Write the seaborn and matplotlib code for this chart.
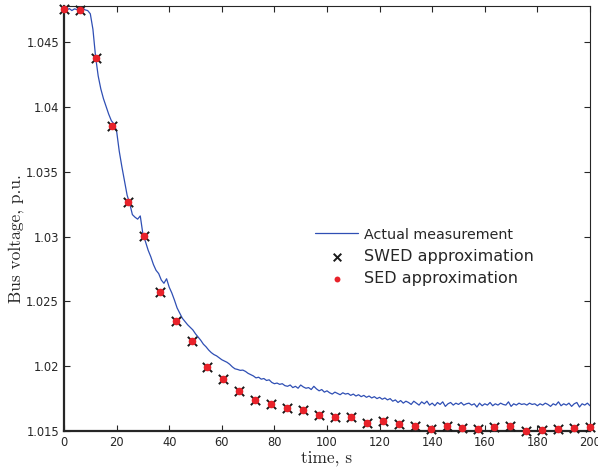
import matplotlib
matplotlib.use("Agg")
import matplotlib.pyplot as plt
import seaborn as sns
import numpy as np
from matplotlib.ticker import FuncFormatter, MultipleLocator

# Measured bus voltage, sampled once per second (t = 0 ... 200 s)
meas_t = np.arange(0, 201)
meas_v = [
    1.04755, 1.04748, 1.04760, 1.04745, 1.04758, 1.04752, 1.04740, 1.04768, 1.04750, 1.04745,
    1.04720, 1.04600, 1.04390, 1.04240, 1.04140, 1.04065, 1.04005, 1.03945, 1.03895, 1.03870,
    1.03815, 1.03660, 1.03540, 1.03430, 1.03320, 1.03255, 1.03170, 1.03150, 1.03135, 1.03160,
    1.03020, 1.02960, 1.02895, 1.02845, 1.02785, 1.02740, 1.02715, 1.02665, 1.02640, 1.02675,
    1.02610, 1.02565, 1.02510, 1.02450, 1.02410, 1.02370, 1.02345, 1.02320, 1.02300, 1.02280,
    1.02250, 1.02225, 1.02200, 1.02170, 1.02150, 1.02125, 1.02105, 1.02090, 1.02080, 1.02065,
    1.02050, 1.02040, 1.02030, 1.02015, 1.01995, 1.01980, 1.01975, 1.01968, 1.01970, 1.01960,
    1.01945, 1.01935, 1.01925, 1.01910, 1.01915, 1.01900, 1.01905, 1.01890, 1.01895, 1.01875,
    1.01865, 1.01870, 1.01860, 1.01865, 1.01850, 1.01845, 1.01855, 1.01835, 1.01845, 1.01830,
    1.01855, 1.01840, 1.01830, 1.01835, 1.01820, 1.01845, 1.01825, 1.01810, 1.01820, 1.01800,
    1.01810, 1.01795, 1.01785, 1.01800, 1.01790, 1.01780, 1.01795, 1.01785, 1.01790, 1.01775,
    1.01785, 1.01770, 1.01780, 1.01765, 1.01775, 1.01760, 1.01770, 1.01755, 1.01765, 1.01750,
    1.01760, 1.01745, 1.01755, 1.01740, 1.01750, 1.01730, 1.01740, 1.01720, 1.01735, 1.01715,
    1.01730, 1.01720, 1.01705, 1.01730, 1.01715, 1.01700, 1.01725, 1.01710, 1.01730, 1.01700,
    1.01715, 1.01695, 1.01720, 1.01705, 1.01725, 1.01690, 1.01710, 1.01720, 1.01700, 1.01715,
    1.01705, 1.01720, 1.01700, 1.01710, 1.01715, 1.01700, 1.01710, 1.01685, 1.01715, 1.01695,
    1.01710, 1.01700, 1.01720, 1.01695, 1.01710, 1.01700, 1.01715, 1.01705, 1.01700, 1.01725,
    1.01690, 1.01710, 1.01700, 1.01715, 1.01705, 1.01710, 1.01700, 1.01715, 1.01705, 1.01710,
    1.01695, 1.01710, 1.01700, 1.01715, 1.01705, 1.01690, 1.01710, 1.01700, 1.01725, 1.01695,
    1.01710, 1.01700, 1.01715, 1.01690, 1.01710, 1.01720, 1.01685, 1.01710, 1.01700, 1.01715,
    1.01695,
]

# Approximation sample times (s)
approx_t = [
    0.0, 6.1, 12.1, 18.2, 24.2, 30.3, 36.4, 42.4, 48.5, 54.5, 60.6, 66.7,
    72.7, 78.8, 84.8, 90.9, 97.0, 103.0, 109.1, 115.2, 121.2, 127.3, 133.3,
    139.4, 145.5, 151.5, 157.6, 163.6, 169.7, 175.8, 181.8, 187.9, 193.9, 200.0,
]
swed_v = [
    1.04754, 1.04746, 1.04377, 1.03854, 1.03267, 1.03007, 1.02571, 1.02352,
    1.02192, 1.01995, 1.01902, 1.01809, 1.01736, 1.01709, 1.01678, 1.01665,
    1.01626, 1.01608, 1.01610, 1.01564, 1.01577, 1.01556, 1.01536, 1.01512,
    1.01541, 1.01526, 1.01518, 1.01533, 1.01539, 1.01502, 1.01505, 1.01515,
    1.01523, 1.01531,
]
sed_v = [
    1.04754, 1.04746, 1.04377, 1.03854, 1.03267, 1.03007, 1.02571, 1.02352,
    1.02192, 1.01995, 1.01902, 1.01809, 1.01736, 1.01709, 1.01678, 1.01665,
    1.01626, 1.01608, 1.01610, 1.01564, 1.01577, 1.01556, 1.01536, 1.01512,
    1.01541, 1.01526, 1.01518, 1.01533, 1.01539, 1.01502, 1.01505, 1.01515,
    1.01523, 1.01531,
]

labels = ["Actual measurement", "SWED approximation", "SED approximation"]

sns.set_theme(style="ticks")
plt.rcParams["font.family"] = ["DejaVu Sans"]

fig = plt.figure(figsize=(5.98, 4.69), dpi=100)
ax = fig.add_axes([64 / 598, 38 / 469, 526 / 598, 425 / 469])

sns.lineplot(x=meas_t, y=meas_v, ax=ax, color="#2f4fb4", linewidth=0.9,
             estimator=None, label=labels[0], zorder=2)
sns.scatterplot(x=approx_t, y=swed_v, ax=ax, marker="x", s=45, color="#1a1a1a",
                linewidth=1.4, label=labels[1], zorder=3, clip_on=False)
sns.scatterplot(x=approx_t, y=sed_v, ax=ax, marker="o", s=30, color="#e8222a",
                linewidth=0, label=labels[2], zorder=4, clip_on=False)

ax.set_xlim(0, 200)
ax.set_ylim(1.015, 1.0478)
ax.xaxis.set_major_locator(MultipleLocator(20))
ax.yaxis.set_major_locator(MultipleLocator(0.005))
ax.yaxis.set_major_formatter(FuncFormatter(lambda v, p: f"{v:g}"))

ax.tick_params(direction="in", top=True, right=True, length=4, width=0.8,
               labelsize=8.3, pad=3.5, colors="#262626")
for side in ("left", "bottom"):
    ax.spines[side].set_linewidth(1.6)
for side in ("top", "right"):
    ax.spines[side].set_linewidth(0.8)
for sp in ax.spines.values():
    sp.set_color("#262626")

ax.set_xlabel("time, s", fontfamily="cmr10", fontsize=12.5, labelpad=1, color="#262626")
ax.set_ylabel("Bus voltage, p.u.", fontfamily="cmr10", fontsize=12.5, color="#262626")
ax.yaxis.set_label_coords(-0.076, 0.452)

handles, hl = ax.get_legend_handles_labels()
leg = ax.legend(handles, hl, loc="center left", bbox_to_anchor=(0.465, 0.409),
                frameon=False, fontsize=11.5, handlelength=2.7, handletextpad=0.4,
                labelspacing=0.45, borderaxespad=0, borderpad=0.4)
leg.get_texts()[0].set_fontsize(10.3)
for t in leg.get_texts():
    t.set_color("#262626")
# smaller marker glyphs in the legend key
leg.legend_handles[1].set_sizes([30])
leg.legend_handles[2].set_sizes([18])

fig.savefig("out.png", dpi=100)
